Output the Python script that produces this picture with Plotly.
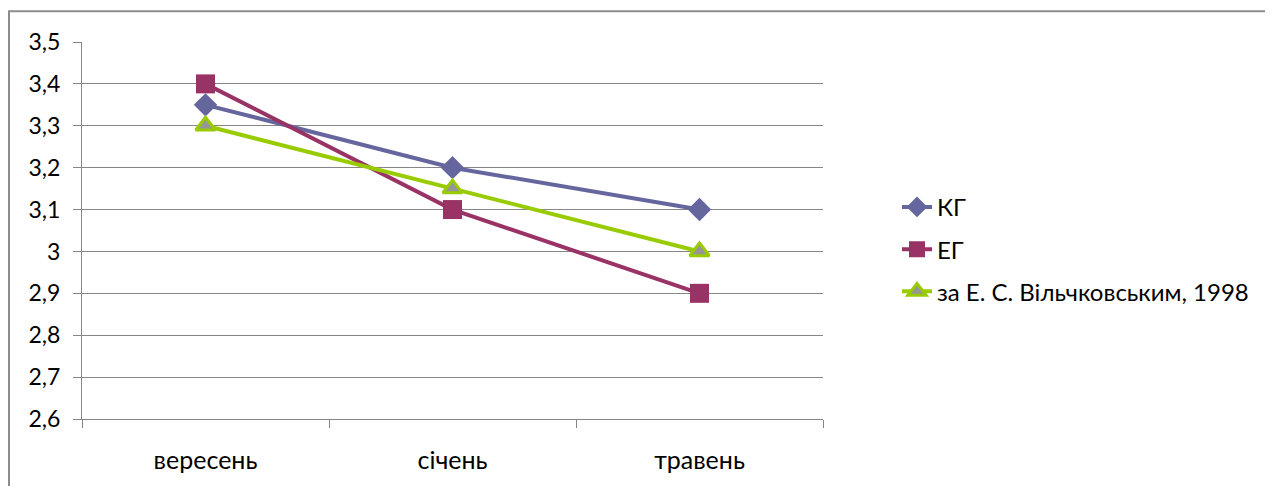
import plotly.graph_objects as go

categories = ["вересень", "січень", "травень"]
kg = [3.35, 3.2, 3.1]
eg = [3.4, 3.1, 2.9]
vil = [3.3, 3.15, 3.0]
series_names = ["КГ", "ЕГ", "за Е. С. Вільчковським, 1998"]
y_tickvals = [2.6, 2.7, 2.8, 2.9, 3.0, 3.1, 3.2, 3.3, 3.4, 3.5]
y_ticktext = ["2,6", "2,7", "2,8", "2,9", "3", "3,1", "3,2", "3,3", "3,4", "3,5"]

FONT = "Lato, 'Open Sans', sans-serif"

fig = go.Figure()
fig.add_trace(go.Scatter(
    x=categories, y=kg, name=series_names[0], mode="lines+markers",
    line=dict(color="#66669E", width=4),
    marker=dict(symbol="diamond", size=18, color="#66669E"),
    legendgroup="a",
))
fig.add_trace(go.Scatter(
    x=categories, y=eg, name=series_names[1], mode="lines+markers",
    line=dict(color="#993366", width=4),
    marker=dict(symbol="square", size=19, color="#993366"),
    legendgroup="b",
))
fig.add_trace(go.Scatter(
    x=categories, y=vil, name=series_names[2], mode="lines+markers",
    line=dict(color="#99CC00", width=4),
    marker=dict(symbol="triangle-up", size=17, color="#969696",
                line=dict(color="#99CC00", width=3)),
    legendgroup="c",
))

# page body has an 8px margin, so figure coords = page coords - 8
W, H = 1265, 478
L, R, T, B = 74, 815, 34, 414
pw, ph = R - L, B - T

fig.update_layout(
    width=W, height=H,
    margin=dict(l=L, r=W - R, t=T, b=H - B, pad=0),
    paper_bgcolor="white", plot_bgcolor="white",
    font=dict(family=FONT, size=23, color="#000000"),
    showlegend=True,
    legend=dict(
        x=(889 - L) / pw, y=(B - 243) / ph, xanchor="left", yanchor="middle",
        font=dict(size=24, family=FONT),
        tracegroupgap=8,
        bgcolor="rgba(0,0,0,0)",
    ),
    xaxis=dict(
        type="category", range=[-0.5, 2.5],
        showline=True, linecolor="#868686", linewidth=1,
        showgrid=False, ticks="outside", tickson="boundaries",
        ticklen=8, tickcolor="#868686", tickfont=dict(size=25),
        ticklabelstandoff=19,
        zeroline=False,
    ),
    yaxis=dict(
        range=[2.6, 3.5], tickvals=y_tickvals, ticktext=y_ticktext,
        showline=True, linecolor="#868686", linewidth=1,
        showgrid=True, gridcolor="#868686", gridwidth=1,
        ticks="outside", ticklen=8, tickcolor="#868686",
        tickfont=dict(size=23), ticklabelstandoff=8, zeroline=False,
    ),
    shapes=[dict(
        type="rect", xref="paper", yref="paper",
        x0=(1 - L) / pw, x1=(1300 - L) / pw,
        y0=(B - 520) / ph, y1=(B - 3) / ph,
        line=dict(color="#8C8C8C", width=2), fillcolor="rgba(0,0,0,0)",
        layer="above",
    )],
)

fig.write_html("out.html")
